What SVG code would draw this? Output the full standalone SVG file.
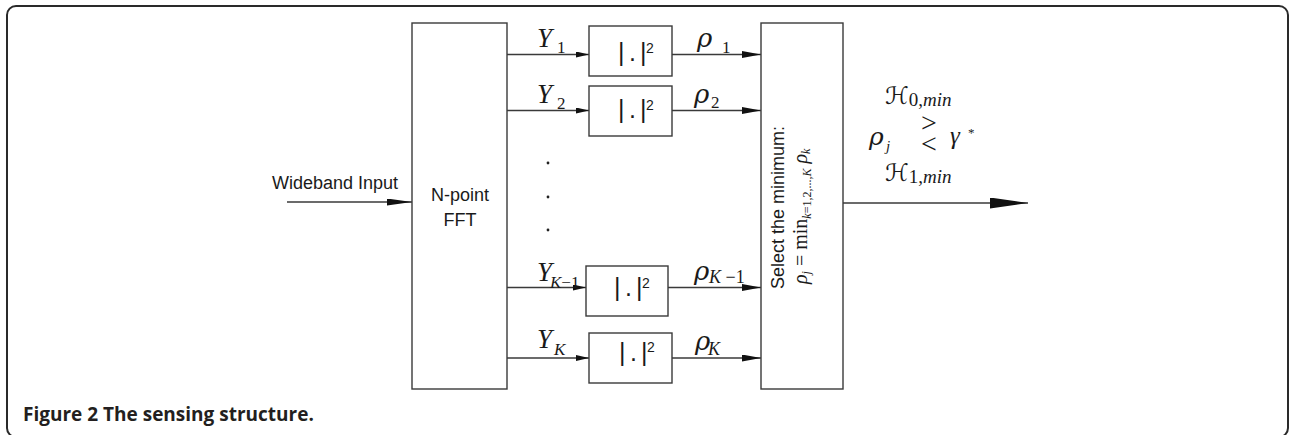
<svg xmlns="http://www.w3.org/2000/svg" width="1291" height="435" viewBox="0 0 1291 435">
<style>
.frame{fill:none;stroke:#2a2a2a;stroke-width:2}
.box{fill:#fff;stroke:#3a3a3a;stroke-width:1.4}
.ln{fill:none;stroke:#3a3a3a;stroke-width:1.3}
.sans{font-family:"Liberation Sans",Arial,sans-serif;fill:#1a1a1a}
.ser{font-family:"Liberation Serif","Times New Roman",serif;fill:#1a1a1a}
.rho{font-family:"DejaVu Serif","Liberation Serif",serif;font-style:italic;fill:#1a1a1a}
.it{font-style:italic}
.abs{font-family:"Liberation Sans",Arial,sans-serif;font-size:25px;fill:#1a1a1a}
.sq{font-family:"Liberation Sans",Arial,sans-serif;font-size:14px;fill:#1a1a1a}
.cap{font-family:"Open Sans","Noto Sans",sans-serif;font-weight:bold;font-size:19px;fill:#231f20}
.cal{font-family:"DejaVu Sans","Noto Sans",sans-serif;fill:#1a1a1a}
</style>
<defs>
<marker id="aS" markerUnits="userSpaceOnUse" markerWidth="13" markerHeight="6" refX="13" refY="3" orient="auto"><path d="M0,0 L13,3 L0,6 Z" fill="#111"/></marker>
<marker id="aM" markerUnits="userSpaceOnUse" markerWidth="19" markerHeight="7" refX="19" refY="3.5" orient="auto"><path d="M0,0 L19,3.5 L0,7 Z" fill="#111"/></marker>
<marker id="aI" markerUnits="userSpaceOnUse" markerWidth="25" markerHeight="7" refX="25" refY="3.5" orient="auto"><path d="M0,0 L25,3.5 L0,7 Z" fill="#111"/></marker>
<marker id="aO" markerUnits="userSpaceOnUse" markerWidth="38" markerHeight="11" refX="38" refY="5.5" orient="auto"><path d="M0,0 L38,5.5 L0,11 Z" fill="#111"/></marker>
</defs>
<rect class="frame" x="7" y="6" width="1281" height="431" rx="9" ry="9"/>

<g id="connectors">
<line class="ln" x1="287" y1="202" x2="412" y2="202" marker-end="url(#aI)"/>
<line class="ln" x1="507" y1="54.5" x2="589" y2="54.5" marker-end="url(#aS)"/>
<line class="ln" x1="507" y1="110.5" x2="589" y2="110.5" marker-end="url(#aS)"/>
<line class="ln" x1="507" y1="287.5" x2="586" y2="287.5" marker-end="url(#aS)"/>
<line class="ln" x1="507" y1="358" x2="589" y2="358" marker-end="url(#aS)"/>
<line class="ln" x1="672" y1="54.5" x2="761" y2="54.5" marker-end="url(#aM)"/>
<line class="ln" x1="672" y1="110.5" x2="761" y2="110.5" marker-end="url(#aM)"/>
<line class="ln" x1="668" y1="287.5" x2="761" y2="287.5" marker-end="url(#aM)"/>
<line class="ln" x1="672" y1="358" x2="761" y2="358" marker-end="url(#aM)"/>
<line class="ln" x1="843" y1="203" x2="1028" y2="203" marker-end="url(#aO)"/>
</g>

<g id="input-label">
<text class="sans" x="272" y="189" font-size="18">Wideband Input</text>
</g>

<g id="fft">
<rect class="box" x="412" y="23" width="95" height="366"/>
<text class="sans" x="460" y="201" font-size="18" text-anchor="middle">N-point</text>
<text class="sans" x="460" y="226" font-size="18" text-anchor="middle">FFT</text>
</g>

<g id="y-labels">
<text class="ser it" x="537" y="47" font-size="27">Y</text><text class="ser" x="557" y="53" font-size="17">1</text>
<text class="ser it" x="537" y="103" font-size="27">Y</text><text class="ser" x="557" y="109" font-size="17">2</text>
<text class="ser it" x="537" y="281" font-size="27">Y</text><text class="ser" x="550" y="288" font-size="17"><tspan class="it">K</tspan>−1</text>
<text class="ser it" x="537" y="348" font-size="27">Y</text><text class="ser it" x="554" y="355" font-size="17">K</text>
</g>

<g id="dots" fill="#222">
<circle cx="548" cy="163" r="1.4"/>
<circle cx="548" cy="197" r="1.4"/>
<circle cx="548" cy="230" r="1.4"/>
</g>

<g id="abs1">
<rect class="box" x="589" y="26" width="83" height="50"/>
<text class="abs" x="618 629 640" y="61">|.|</text><text class="sq" x="646" y="53">2</text>
</g>
<g id="abs2">
<rect class="box" x="589" y="86" width="83" height="50"/>
<text class="abs" x="618 629 640" y="118">|.|</text><text class="sq" x="646" y="110">2</text>
</g>
<g id="absK1">
<rect class="box" x="586" y="266" width="82" height="50"/>
<text class="abs" x="614 625 636" y="296">|.|</text><text class="sq" x="642" y="288">2</text>
</g>
<g id="absK">
<rect class="box" x="589" y="333" width="83" height="50"/>
<text class="abs" x="619 630 641" y="361">|.|</text><text class="sq" x="647" y="352">2</text>
</g>

<g id="rho-labels">
<text class="rho" x="697" y="47" font-size="26">ρ</text><text class="ser" x="722" y="53" font-size="17">1</text>
<text class="rho" x="694" y="103" font-size="26">ρ</text><text class="ser" x="711" y="108" font-size="17">2</text>
<text class="rho" x="694" y="280" font-size="26">ρ</text><text class="ser" x="709" y="283" font-size="18"><tspan class="it">K</tspan> −1</text>
<text class="rho" x="695" y="350" font-size="26">ρ</text><text class="ser it" x="708" y="355" font-size="18">K</text>
</g>

<g id="select">
<rect class="box" x="761" y="23" width="82" height="366"/>
<text class="sans" font-size="18" transform="translate(784,289) rotate(-90)">Select the minimum:</text>
<text class="ser" font-size="20" transform="translate(807,284) rotate(-90)"><tspan class="it">ρ</tspan><tspan class="it" font-size="12" dy="3">j</tspan><tspan dy="-3"> = min</tspan><tspan font-size="12" dy="4"><tspan class="it">k</tspan>=1,2,...,<tspan class="it">K</tspan></tspan><tspan dy="-4" class="it"> ρ</tspan><tspan class="it" font-size="12" dy="3">k</tspan></text>
</g>

<g id="decision">
<text class="cal" x="885" y="104" font-size="24">ℋ<tspan class="ser" dy="2" font-size="19">0,<tspan class="it">min</tspan></tspan></text>
<text class="rho" x="869" y="145" font-size="25">ρ<tspan class="ser it" x="886" y="151" font-size="15">j</tspan></text>
<text class="ser" x="921" y="132" font-size="28">&gt;</text>
<text class="ser" x="921" y="153" font-size="28">&lt;</text>
<text class="ser it" x="950" y="144" font-size="25">γ<tspan class="ser" font-style="normal" x="968" y="137" font-size="13">*</tspan></text>
<text class="cal" x="885" y="181" font-size="24">ℋ<tspan class="ser" dy="2" font-size="19">1,<tspan class="it">min</tspan></tspan></text>
</g>

<text class="cap" x="23" y="421">Figure 2 The sensing structure.</text>
</svg>
